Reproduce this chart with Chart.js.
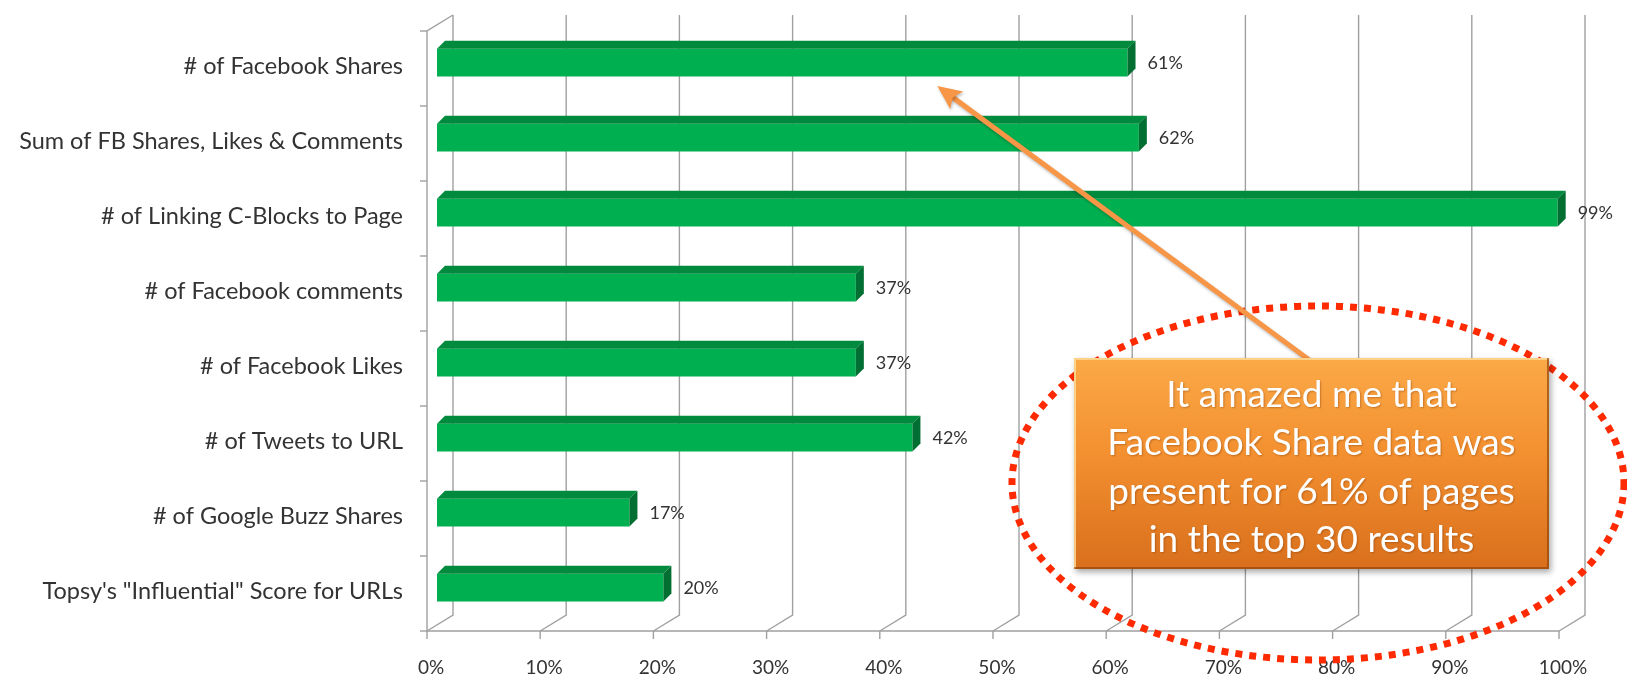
<!DOCTYPE html>
<html><head><meta charset="utf-8">
<script src="https://cdn.jsdelivr.net/npm/chart.js@4/dist/chart.umd.min.js"></script>
<style>html,body{margin:0;padding:0;background:#fff}#wrap{width:1627px;height:681px;position:relative}</style>
</head><body><div id="wrap"><canvas id="c" width="1627" height="681"></canvas></div>
<script>
const categories = [
  "# of Facebook Shares",
  "Sum of FB Shares, Likes & Comments",
  "# of Linking C-Blocks to Page",
  "# of Facebook comments",
  "# of Facebook Likes",
  "# of Tweets to URL",
  "# of Google Buzz Shares",
  "Topsy's \"Influential\" Score for URLs"
];
const values = [61, 62, 99, 37, 37, 42, 17, 20];
const valueLabels = ["61%", "62%", "99%", "37%", "37%", "42%", "17%", "20%"];
const tickValues = [0, 10, 20, 30, 40, 50, 60, 70, 80, 90, 100];
const calloutLines = [
  "It amazed me that",
  "Facebook Share data was",
  "present for 61% of pages",
  "in the top 30 results"
];

const FONT = "Lato, 'Open Sans', sans-serif";
const FRONT = {dx: -10, dy: 6};
const BACK = {dx: 16, dy: -10};
const DEPTH = 8;

const frame3d = {
  id: 'frame3d',
  beforeDatasetsDraw(chart) {
    const ctx = chart.ctx, xs = chart.scales.x, a = chart.chartArea;
    ctx.save();
    ctx.strokeStyle = '#a0a0a0';
    ctx.lineWidth = 1.4;
    const topB = a.top + BACK.dy, botB = a.bottom + BACK.dy;
    const topF = a.top + FRONT.dy, botF = a.bottom + FRONT.dy;
    tickValues.forEach(v => {
      const p = xs.getPixelForValue(v);
      const xb = p + BACK.dx, xf = p + FRONT.dx;
      ctx.beginPath();
      ctx.moveTo(xb, topB); ctx.lineTo(xb, botB); ctx.lineTo(xf, botF);
      ctx.stroke();
      ctx.beginPath(); ctx.moveTo(xf, botF); ctx.lineTo(xf, botF + 8); ctx.stroke();
    });
    const x0f = xs.getPixelForValue(0) + FRONT.dx, x0b = xs.getPixelForValue(0) + BACK.dx;
    const x100f = xs.getPixelForValue(100) + FRONT.dx;
    ctx.beginPath();
    ctx.moveTo(x0b, topB); ctx.lineTo(x0f, topF); ctx.lineTo(x0f, botF); ctx.lineTo(x100f, botF);
    ctx.stroke();
    const n = categories.length, band = (a.bottom - a.top) / n;
    for (let i = 0; i <= n; i++) {
      const y = a.top + i * band + FRONT.dy;
      ctx.beginPath(); ctx.moveTo(x0f - 7, y); ctx.lineTo(x0f, y); ctx.stroke();
    }
    ctx.restore();
  },
  afterDatasetsDraw(chart) {
    const ctx = chart.ctx;
    const meta = chart.getDatasetMeta(0);
    ctx.save();
    meta.data.forEach((bar, i) => {
      const x0 = bar.base, x1 = bar.x, yT = bar.y - bar.height / 2, yB = bar.y + bar.height / 2;
      ctx.fillStyle = '#008a3e';
      ctx.beginPath();
      ctx.moveTo(x0, yT); ctx.lineTo(x0 + DEPTH, yT - DEPTH); ctx.lineTo(x1 + DEPTH, yT - DEPTH); ctx.lineTo(x1, yT);
      ctx.closePath(); ctx.fill();
      ctx.fillStyle = '#006f31';
      ctx.beginPath();
      ctx.moveTo(x1, yT); ctx.lineTo(x1 + DEPTH, yT - DEPTH); ctx.lineTo(x1 + DEPTH, yB - DEPTH); ctx.lineTo(x1, yB);
      ctx.closePath(); ctx.fill();
      ctx.fillStyle = '#333333';
      ctx.font = '18px ' + FONT;
      ctx.textAlign = 'left'; ctx.textBaseline = 'middle';
      ctx.fillText(valueLabels[i], x1 + DEPTH + 12, bar.y + 1);
    });
    ctx.restore();
  },
  afterDraw(chart) {
    const ctx = chart.ctx, xs = chart.scales.x;
    ctx.save();
    ctx.strokeStyle = '#ff2a00';
    ctx.lineWidth = 7;
    ctx.setLineDash([7, 7]);
    ctx.beginPath();
    ctx.ellipse(1318, 483, 306, 177, 0, 0, Math.PI * 2);
    ctx.stroke();
    ctx.setLineDash([]);
    const sx = 1312, sy = 362;
    const tx = xs.getPixelForValue(44.2), ty = 86;
    const ang = Math.atan2(ty - sy, tx - sx);
    ctx.strokeStyle = '#f79646'; ctx.fillStyle = '#f79646';
    ctx.lineWidth = 5; ctx.lineCap = 'round';
    ctx.shadowColor = 'rgba(0,0,0,0.25)'; ctx.shadowBlur = 3; ctx.shadowOffsetX = 1; ctx.shadowOffsetY = 2;
    const hl = 24, hw = 11;
    const bx = tx - Math.cos(ang) * hl * 0.8, by = ty - Math.sin(ang) * hl * 0.8;
    ctx.beginPath(); ctx.moveTo(sx, sy); ctx.lineTo(bx, by); ctx.stroke();
    ctx.beginPath();
    ctx.moveTo(tx, ty);
    ctx.lineTo(tx - Math.cos(ang) * hl + Math.sin(ang) * hw, ty - Math.sin(ang) * hl - Math.cos(ang) * hw);
    ctx.lineTo(bx, by);
    ctx.lineTo(tx - Math.cos(ang) * hl - Math.sin(ang) * hw, ty - Math.sin(ang) * hl + Math.cos(ang) * hw);
    ctx.closePath(); ctx.fill();
    const L = 1074, T = 358, R = 1549, B = 569;
    ctx.shadowColor = 'rgba(0,0,0,0.35)'; ctx.shadowBlur = 6; ctx.shadowOffsetX = 2; ctx.shadowOffsetY = 3;
    const g = ctx.createLinearGradient(0, T, 0, B);
    g.addColorStop(0, '#fba948'); g.addColorStop(0.45, '#f39030'); g.addColorStop(1, '#d96f1c');
    ctx.fillStyle = g;
    ctx.fillRect(L, T, R - L, B - T);
    ctx.shadowColor = 'transparent';
    ctx.strokeStyle = 'rgba(255,220,150,0.8)'; ctx.lineWidth = 2;
    ctx.beginPath(); ctx.moveTo(L + 1, B - 1); ctx.lineTo(L + 1, T + 1); ctx.lineTo(R - 1, T + 1); ctx.stroke();
    ctx.strokeStyle = 'rgba(150,70,10,0.7)';
    ctx.beginPath(); ctx.moveTo(R - 1, T + 1); ctx.lineTo(R - 1, B - 1); ctx.lineTo(L + 1, B - 1); ctx.stroke();
    ctx.fillStyle = '#ffffff';
    ctx.font = '37px ' + FONT;
    ctx.textAlign = 'center'; ctx.textBaseline = 'middle';
    ctx.shadowColor = 'rgba(120,50,0,0.4)'; ctx.shadowBlur = 2; ctx.shadowOffsetX = 1; ctx.shadowOffsetY = 1;
    calloutLines.forEach((t, i) => ctx.fillText(t, (L + R) / 2, 395 + i * 48.5));
    ctx.restore();
  }
};

new Chart(document.getElementById('c'), {
  type: 'bar',
  data: {
    labels: categories,
    datasets: [{
      data: values,
      backgroundColor: '#00b050',
      borderWidth: 0,
      categoryPercentage: 1,
      barPercentage: 0.37
    }]
  },
  options: {
    indexAxis: 'y',
    responsive: false,
    animation: false,
    devicePixelRatio: 1,
    layout: {autoPadding: false, padding: {top: 25, right: 58, left: 0, bottom: 0}},
    plugins: {legend: {display: false}, tooltip: {enabled: false}},
    scales: {
      x: {
        min: 0, max: 100,
        grid: {display: false}, border: {display: false},
        afterBuildTicks(s) { s.ticks = tickValues.map(v => ({value: v})); },
        afterFit(s) { s.height = 56; s.paddingLeft = 0; s.paddingRight = 0; },
        ticks: {
          callback: v => v + '%',
          font: {family: FONT, size: 19},
          color: '#333333',
          padding: 23,
          labelOffset: -6,
          maxRotation: 0, autoSkip: false
        }
      },
      y: {
        grid: {display: false}, border: {display: false},
        afterFit(s) { s.width = 437; s.paddingTop = 0; s.paddingBottom = 0; },
        ticks: {
          font: {family: FONT, size: 23.5},
          color: '#333333',
          padding: 26,
          labelOffset: 4,
          autoSkip: false
        }
      }
    }
  },
  plugins: [frame3d]
});
</script>
</body></html>
